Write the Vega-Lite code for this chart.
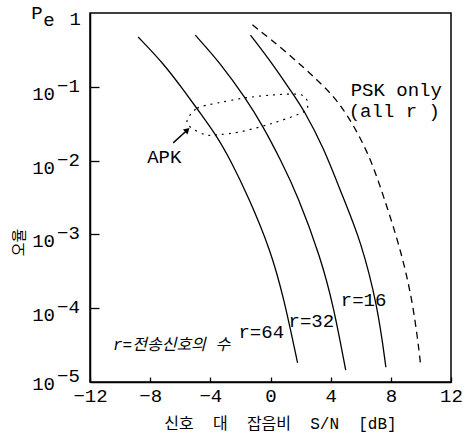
{
  "$schema": "https://vega.github.io/schema/vega-lite/v6.json",
  "width": 361,
  "height": 369,
  "autosize": {"type": "none"},
  "padding": {"left": 90, "top": 13, "right": 15, "bottom": 58},
  "background": "white",
  "config": {"view": {"stroke": "black", "strokeWidth": 1.5}},
  "datasets": {
    "curves": [
      {"curve": "r=64", "snr": -8.8, "log10Pe": -0.325},
      {"curve": "r=64", "snr": -7.13, "log10Pe": -0.68},
      {"curve": "r=64", "snr": -5.8, "log10Pe": -1.04},
      {"curve": "r=64", "snr": -4.67, "log10Pe": -1.355},
      {"curve": "r=64", "snr": -3.53, "log10Pe": -1.68},
      {"curve": "r=64", "snr": -2.67, "log10Pe": -1.99},
      {"curve": "r=64", "snr": -1.47, "log10Pe": -2.49},
      {"curve": "r=64", "snr": 0.0, "log10Pe": -3.21},
      {"curve": "r=64", "snr": 0.87, "log10Pe": -3.85},
      {"curve": "r=64", "snr": 1.8, "log10Pe": -4.74},
      {"curve": "r=32", "snr": -5.0, "log10Pe": -0.3},
      {"curve": "r=32", "snr": -3.33, "log10Pe": -0.68},
      {"curve": "r=32", "snr": -1.67, "log10Pe": -1.15},
      {"curve": "r=32", "snr": -0.47, "log10Pe": -1.545},
      {"curve": "r=32", "snr": 0.67, "log10Pe": -1.99},
      {"curve": "r=32", "snr": 1.8, "log10Pe": -2.47},
      {"curve": "r=32", "snr": 3.33, "log10Pe": -3.31},
      {"curve": "r=32", "snr": 4.2, "log10Pe": -3.98},
      {"curve": "r=32", "snr": 5.0, "log10Pe": -4.84},
      {"curve": "r=16", "snr": -1.33, "log10Pe": -0.3},
      {"curve": "r=16", "snr": 0.2, "log10Pe": -0.705},
      {"curve": "r=16", "snr": 1.53, "log10Pe": -1.11},
      {"curve": "r=16", "snr": 2.2, "log10Pe": -1.31},
      {"curve": "r=16", "snr": 3.53, "log10Pe": -1.82},
      {"curve": "r=16", "snr": 4.8, "log10Pe": -2.49},
      {"curve": "r=16", "snr": 6.0, "log10Pe": -3.08},
      {"curve": "r=16", "snr": 7.13, "log10Pe": -3.98},
      {"curve": "r=16", "snr": 7.67, "log10Pe": -4.8},
      {"curve": "PSK", "snr": -1.2, "log10Pe": -0.16},
      {"curve": "PSK", "snr": 1.13, "log10Pe": -0.54},
      {"curve": "PSK", "snr": 3.13, "log10Pe": -0.91},
      {"curve": "PSK", "snr": 4.67, "log10Pe": -1.22},
      {"curve": "PSK", "snr": 6.47, "log10Pe": -1.86},
      {"curve": "PSK", "snr": 7.53, "log10Pe": -2.49},
      {"curve": "PSK", "snr": 8.67, "log10Pe": -3.21},
      {"curve": "PSK", "snr": 9.53, "log10Pe": -3.98},
      {"curve": "PSK", "snr": 10.0, "log10Pe": -4.8}
    ],
    "apk": [
      {"i": 0, "snr": -5.53, "log10Pe": -1.45},
      {"i": 1, "snr": -4.87, "log10Pe": -1.29},
      {"i": 2, "snr": -3.53, "log10Pe": -1.22},
      {"i": 3, "snr": -1.67, "log10Pe": -1.15},
      {"i": 4, "snr": 0.2, "log10Pe": -1.11},
      {"i": 5, "snr": 1.8, "log10Pe": -1.1},
      {"i": 6, "snr": 2.33, "log10Pe": -1.15},
      {"i": 7, "snr": 2.47, "log10Pe": -1.25},
      {"i": 8, "snr": 2.2, "log10Pe": -1.34},
      {"i": 9, "snr": 0.2, "log10Pe": -1.49},
      {"i": 10, "snr": -2.0, "log10Pe": -1.61},
      {"i": 11, "snr": -3.53, "log10Pe": -1.65},
      {"i": 12, "snr": -4.33, "log10Pe": -1.65},
      {"i": 13, "snr": -5.33, "log10Pe": -1.545}
    ],
    "arrow": [
      {"part": "tail", "snr": -6.47, "log10Pe": -1.76},
      {"part": "head", "snr": -5.53, "log10Pe": -1.585}
    ],
    "labels": [
      {"group": "mono", "snr": -8.2, "log10Pe": -1.95, "text": "APK"},
      {"group": "mono", "snr": 5.33, "log10Pe": -1.04, "text": "PSK only"},
      {"group": "mono", "snr": 5.2, "log10Pe": -1.33, "text": "(all r )"},
      {"group": "mono", "snr": 4.67, "log10Pe": -3.89, "text": "r=16"},
      {"group": "mono", "snr": 1.2, "log10Pe": -4.17, "text": "r=32"},
      {"group": "mono", "snr": -2.13, "log10Pe": -4.32, "text": "r=64"},
      {"group": "note", "snr": -10.47, "log10Pe": -4.5, "text": "r=전송신호의 수"}
    ],
    "yticks": [
      {"log10Pe": -1, "exp": "−1"},
      {"log10Pe": -2, "exp": "−2"},
      {"log10Pe": -3, "exp": "−3"},
      {"log10Pe": -4, "exp": "−4"},
      {"log10Pe": -5, "exp": "−5"}
    ]
  },
  "layer": [
    {
      "data": {"name": "curves"},
      "transform": [{"filter": "datum.curve != 'PSK'"}],
      "mark": {"type": "line", "color": "black", "strokeWidth": 1.3, "interpolate": "basis"},
      "encoding": {
        "x": {
          "field": "snr", "type": "quantitative",
          "scale": {"domain": [-12, 12], "nice": false, "zero": false},
          "axis": {
            "values": [-12, -8, -4, 0, 4, 8, 12],
            "tickSize": -5, "tickColor": "black", "tickWidth": 1.3,
            "domainColor": "black", "domainWidth": 1.5, "grid": false,
            "labelFont": "Liberation Mono", "labelFontSize": 19, "labelColor": "black",
            "labelPadding": 9, "labelFlush": false, "labelOverlap": false,
            "title": "신호\u00a0\u00a0대\u00a0\u00a0잡음비\u00a0\u00a0S/N\u00a0\u00a0[dB]",
            "titleFont": "Liberation Mono, Noto Sans CJK KR", "titleFontSize": 16,
            "titleFontWeight": "normal", "titleColor": "black",
            "titleX": 190, "titleY": 41, "titleBaseline": "middle"
          }
        },
        "y": {
          "field": "log10Pe", "type": "quantitative",
          "scale": {"domain": [-5, 0], "nice": false, "zero": false},
          "axis": {
            "values": [-1, -2, -3, -4],
            "tickSize": -9, "tickColor": "black", "tickWidth": 1.3,
            "domainColor": "black", "domainWidth": 1.5, "grid": false,
            "labels": false,
            "title": "오율",
            "titleFont": "Noto Sans CJK KR", "titleFontSize": 15,
            "titleFontWeight": "normal", "titleColor": "black",
            "titleX": -72, "titleY": 229, "titleAngle": -90,
            "titleBaseline": "middle", "titleAlign": "center"
          }
        },
        "detail": {"field": "curve"}
      }
    },
    {
      "data": {"name": "curves"},
      "transform": [{"filter": "datum.curve == 'PSK'"}],
      "mark": {"type": "line", "color": "black", "strokeWidth": 1.3, "interpolate": "basis", "strokeDash": [7, 5]},
      "encoding": {
        "x": {"field": "snr", "type": "quantitative"},
        "y": {"field": "log10Pe", "type": "quantitative"}
      }
    },
    {
      "data": {"name": "apk"},
      "mark": {"type": "line", "color": "black", "strokeWidth": 1.2, "interpolate": "cardinal-closed", "strokeDash": [2, 5]},
      "encoding": {
        "x": {"field": "snr", "type": "quantitative"},
        "y": {"field": "log10Pe", "type": "quantitative"},
        "order": {"field": "i", "type": "quantitative"}
      }
    },
    {
      "data": {"name": "arrow"},
      "mark": {"type": "line", "color": "black", "strokeWidth": 1.4},
      "encoding": {
        "x": {"field": "snr", "type": "quantitative"},
        "y": {"field": "log10Pe", "type": "quantitative"}
      }
    },
    {
      "data": {"name": "arrow"},
      "transform": [{"filter": "datum.part == 'head'"}],
      "mark": {"type": "point", "shape": "triangle-up", "filled": true, "color": "black", "opacity": 1, "size": 45, "angle": 47},
      "encoding": {
        "x": {"field": "snr", "type": "quantitative"},
        "y": {"field": "log10Pe", "type": "quantitative"}
      }
    },
    {
      "data": {"name": "labels"},
      "transform": [{"filter": "datum.group == 'mono'"}],
      "mark": {"type": "text", "align": "left", "baseline": "middle", "font": "Liberation Mono", "fontSize": 19, "color": "black"},
      "encoding": {
        "x": {"field": "snr", "type": "quantitative"},
        "y": {"field": "log10Pe", "type": "quantitative"},
        "text": {"field": "text"}
      }
    },
    {
      "data": {"name": "labels"},
      "transform": [{"filter": "datum.group == 'note'"}],
      "mark": {"type": "text", "align": "left", "baseline": "middle", "font": "Liberation Mono, Noto Sans CJK KR", "fontSize": 16, "fontStyle": "italic", "color": "black"},
      "encoding": {
        "x": {"field": "snr", "type": "quantitative"},
        "y": {"field": "log10Pe", "type": "quantitative"},
        "text": {"field": "text"}
      }
    },
    {
      "data": {"name": "yticks"},
      "transform": [{"filter": "datum.log10Pe > -5"}],
      "mark": {"type": "text", "align": "right", "baseline": "middle", "font": "Liberation Mono", "fontSize": 19, "color": "black", "dx": -35, "dy": 7},
      "encoding": {
        "x": {"datum": -12, "type": "quantitative"},
        "y": {"field": "log10Pe", "type": "quantitative"},
        "text": {"value": "10"}
      }
    },
    {
      "data": {"name": "yticks"},
      "transform": [{"filter": "datum.log10Pe > -5"}],
      "mark": {"type": "text", "align": "left", "baseline": "middle", "font": "Liberation Mono", "fontSize": 19, "color": "black", "dx": -33, "dy": -1},
      "encoding": {
        "x": {"datum": -12, "type": "quantitative"},
        "y": {"field": "log10Pe", "type": "quantitative"},
        "text": {"field": "exp"}
      }
    },
    {
      "data": {"name": "yticks"},
      "transform": [{"filter": "datum.log10Pe == -5"}],
      "mark": {"type": "text", "align": "right", "baseline": "middle", "font": "Liberation Mono", "fontSize": 19, "color": "black", "dx": -35, "dy": 2},
      "encoding": {
        "x": {"datum": -12, "type": "quantitative"},
        "y": {"field": "log10Pe", "type": "quantitative"},
        "text": {"value": "10"}
      }
    },
    {
      "data": {"name": "yticks"},
      "transform": [{"filter": "datum.log10Pe == -5"}],
      "mark": {"type": "text", "align": "left", "baseline": "middle", "font": "Liberation Mono", "fontSize": 19, "color": "black", "dx": -33, "dy": -6},
      "encoding": {
        "x": {"datum": -12, "type": "quantitative"},
        "y": {"field": "log10Pe", "type": "quantitative"},
        "text": {"field": "exp"}
      }
    },
    {
      "data": {"values": [{"snr": -12, "log10Pe": 0}]},
      "mark": {"type": "text", "align": "right", "baseline": "middle", "font": "Liberation Mono", "fontSize": 19, "color": "black", "dx": -9, "dy": 6},
      "encoding": {
        "x": {"field": "snr", "type": "quantitative"},
        "y": {"field": "log10Pe", "type": "quantitative"},
        "text": {"value": "1"}
      }
    },
    {
      "data": {"values": [{"snr": -12, "log10Pe": 0}]},
      "mark": {"type": "text", "align": "center", "baseline": "middle", "font": "Liberation Mono", "fontSize": 19, "color": "black", "dx": -53, "dy": 0},
      "encoding": {
        "x": {"field": "snr", "type": "quantitative"},
        "y": {"field": "log10Pe", "type": "quantitative"},
        "text": {"value": "P"}
      }
    },
    {
      "data": {"values": [{"snr": -12, "log10Pe": 0}]},
      "mark": {"type": "text", "align": "center", "baseline": "middle", "font": "Liberation Mono", "fontSize": 19, "color": "black", "dx": -41, "dy": 7},
      "encoding": {
        "x": {"field": "snr", "type": "quantitative"},
        "y": {"field": "log10Pe", "type": "quantitative"},
        "text": {"value": "e"}
      }
    }
  ]
}
